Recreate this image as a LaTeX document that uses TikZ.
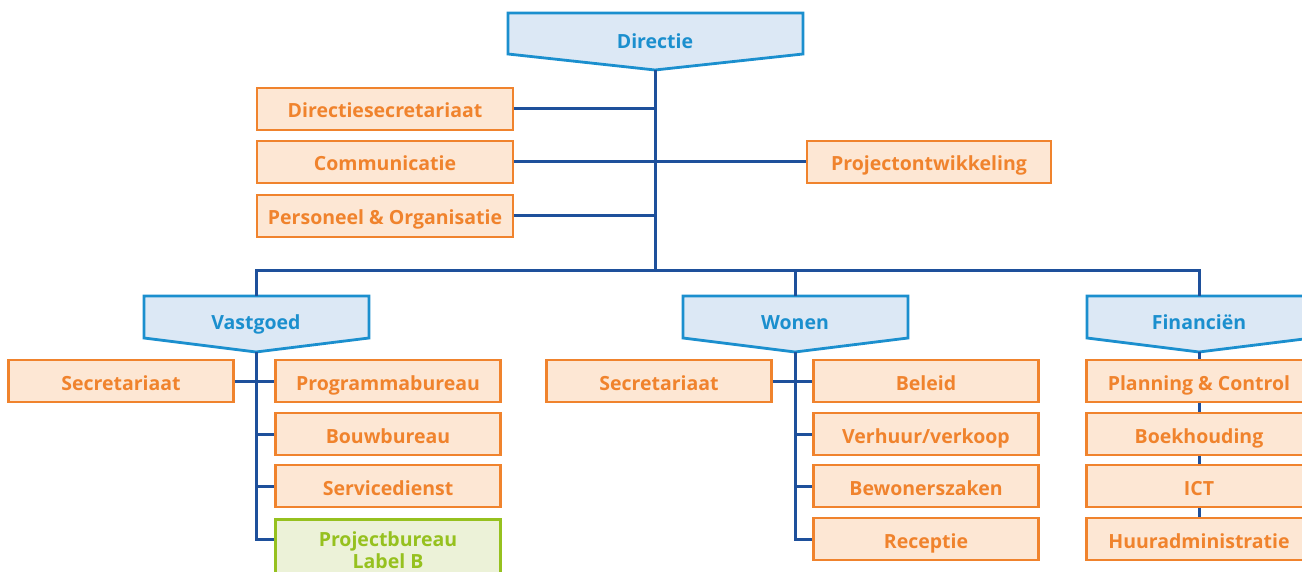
\documentclass[tikz,border=0pt]{standalone}
\usepackage{fontspec}
\setmainfont{Open Sans}
\usepackage{tikz}

\definecolor{oranjerand}{RGB}{240,131,45}
\definecolor{oranjevlak}{RGB}{253,231,212}
\definecolor{blauwrand}{RGB}{27,143,206}
\definecolor{blauwvlak}{RGB}{220,232,245}
\definecolor{lijnblauw}{RGB}{30,80,155}
\definecolor{groenrand}{RGB}{150,193,31}
\definecolor{groenvlak}{RGB}{236,242,216}

\tikzset{
  vak/.style={line width=2.8pt, font=\fontsize{19.5}{22}\selectfont\bfseries,
    minimum width=225pt, minimum height=42pt, inner sep=0pt, align=center},
  afd/.style={vak, draw=oranjerand, fill=oranjevlak, text=oranjerand,
    text height=18pt, text depth=0pt},
  groen/.style={vak, draw=groenrand, fill=groenvlak, text=groenrand},
  kop/.style={draw=blauwrand, fill=blauwvlak, line width=2.8pt, line join=miter},
  koptekst/.style={text=blauwrand, font=\fontsize{19.5}{22}\selectfont\bfseries,
    inner sep=0pt, text height=18pt, text depth=0pt},
  lijn/.style={draw=lijnblauw, line width=3pt}
}

\begin{document}
\begin{tikzpicture}[x=1pt, y=-1pt]
\useasboundingbox (0,0) rectangle (1302,572);
\clip (0,0) rectangle (1302,572);

% directie
\draw [kop] (508,13) -- (803,13) -- (803,54) -- (655,70) -- (508,54) -- cycle;
\coordinate (dirpunt) at (655,70);
\node [koptekst] (dir) at (655,40) {Directie};

% staf
\node [afd, minimum width=256pt] (dsec) at (385,109) {Directiesecretariaat};
\node [afd, minimum width=256pt] (comm) at (385,162) {Communicatie};
\node [afd, minimum width=256pt] (peo) at (385,216) {Personeel \& Organisatie};
\node [afd, minimum width=244pt] (proj) at (929,162) {Projectontwikkeling};

% hoofden
\draw [kop] (144,296) -- (369,296) -- (369,338) -- (256,352) -- (144,338) -- cycle;
\coordinate (vgpunt) at (256,352);
\node [koptekst] (vg) at (256,320) {Vastgoed};
\draw [kop] (683,296) -- (908,296) -- (908,338) -- (795,352) -- (683,338) -- cycle;
\coordinate (wopunt) at (795,352);
\node [koptekst] (wo) at (795,320) {Wonen};
\draw [kop] (1087,296) -- (1312,296) -- (1312,338) -- (1199,352) -- (1087,338) -- cycle;
\coordinate (fipunt) at (1199,352);
\node [koptekst] (fi) at (1199,320) {Financiën};

% vastgoed
\node [afd] (vgsec) at (121,381) {Secretariaat};
\node [afd] (prog) at (388,381) {Programmabureau};
\node [afd] (bouw) at (388,434) {Bouwbureau};
\node [afd] (serv) at (388,486) {Servicedienst};
\node [groen, anchor=north, minimum height=62pt] (pb) at (388,518) {Projectbureau\\Label B};

% wonen
\node [afd] (wosec) at (659,381) {Secretariaat};
\node [afd] (bel) at (926,381) {Beleid};
\node [afd] (verh) at (926,434) {Verhuur/verkoop};
\node [afd] (bew) at (926,486) {Bewonerszaken};
\node [afd] (rec) at (926,539) {Receptie};

% financien
\node [afd] (pc) at (1199,381) {Planning \& Control};
\node [afd] (boek) at (1199,434) {Boekhouding};
\node [afd] (ict) at (1199,486) {ICT};
\node [afd] (huur) at (1199,539) {Huuradministratie};

% lijnen
\draw [lijn] (dirpunt) -- (655,271) coordinate (knoop);
\draw [lijn] (dsec.east) -- (dsec.east -| dirpunt);
\draw [lijn] (comm.east) -- (proj.west);
\draw [lijn] (peo.east) -- (peo.east -| dirpunt);
\draw [lijn] (vg.north |- 0,296) |- (knoop) -| (fi.north |- 0,296);
\draw [lijn] (wo.north |- 0,296) -- (wo.north |- knoop);

\draw [lijn] (vgpunt) -- (vgpunt |- rec.west) -- (pb.west |- rec.west);
\draw [lijn] (vgsec.east) -- (prog.west);
\draw [lijn] (vgpunt |- bouw.west) -- (bouw.west);
\draw [lijn] (vgpunt |- serv.west) -- (serv.west);

\draw [lijn] (wopunt) -- (wopunt |- rec.west) -- (rec.west);
\draw [lijn] (wosec.east) -- (bel.west);
\draw [lijn] (wopunt |- verh.west) -- (verh.west);
\draw [lijn] (wopunt |- bew.west) -- (bew.west);

\draw [lijn] (fipunt) -- (pc.north);
\draw [lijn] (pc.south) -- (boek.north);
\draw [lijn] (boek.south) -- (ict.north);
\draw [lijn] (ict.south) -- (huur.north);
\end{tikzpicture}
\end{document}
